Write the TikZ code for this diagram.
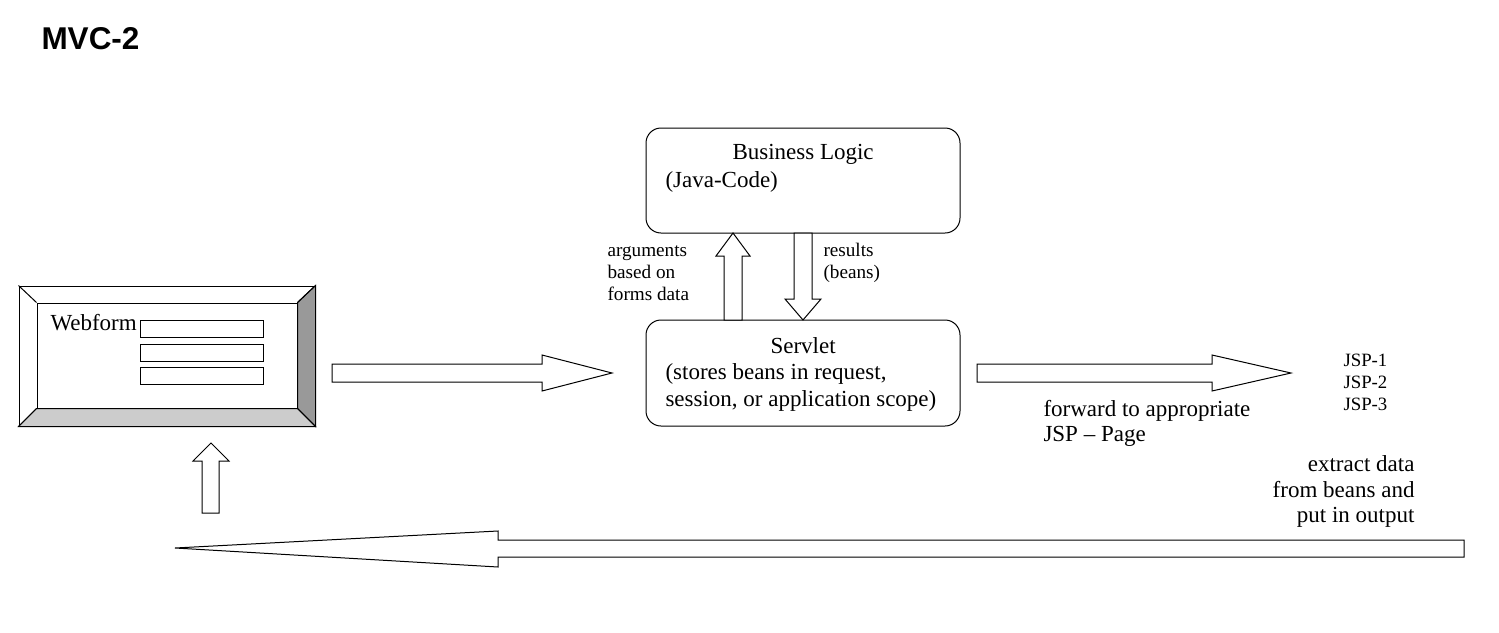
\documentclass[tikz,border=0pt]{standalone}
\usepackage{fontspec}
\setmainfont{Liberation Serif}
\newfontfamily\titlefont{Liberation Sans}
\begin{document}
\begin{tikzpicture}[x=0.5pt,y=-0.5pt,line width=0.5pt]
	\tikzstyle{every node}+=[inner sep=0pt]
	\tikzstyle{big}=[font=\fontsize{11.5}{13.5}\selectfont,anchor=base west]
	\tikzstyle{small}=[font=\fontsize{9.6}{11}\selectfont,anchor=base west]
	\tikzstyle{tiny}=[font=\fontsize{9.4}{11}\selectfont,anchor=base west]
	\tikzstyle{roundbox}=[draw,rounded corners=7.5pt,minimum width=157pt]
	\tikzstyle{blockarrow}=[draw,fill=white,line join=miter]
	\useasboundingbox (0,0) rectangle (1499,632);
	\node [anchor=base west,font=\titlefont\bfseries\fontsize{15.75}{18}\selectfont] (title) at (41,49) {MVC-2};
	\node [roundbox,minimum height=52.5pt] (logic) at (803,180.5) {};
	\node [big] (logic1) at (732,159) {Business Logic};
	\node [big] (logic2) at (665,187) {(Java-Code)};
	\node [roundbox,minimum height=53pt] (servlet) at (803,373) {};
	\node [big] (servlet1) at (770,353) {Servlet};
	\node [big] (servlet2) at (665,379) {(stores beans in request,};
	\node [big] (servlet3) at (665,406) {session, or application scope)};
	\node [draw,minimum width=148pt,minimum height=70pt] (outer) at (167,356) {};
	\node [draw,minimum width=130pt,minimum height=52.5pt] (inner) at (167,355.5) {};
	\draw [fill={rgb,255:red,153;green,153;blue,153}] (outer.north east) -- (inner.north east) -- (inner.south east) -- (outer.south east) -- cycle;
	\draw [fill={rgb,255:red,204;green,204;blue,204}] (outer.south west) -- (inner.south west) -- (inner.south east) -- (outer.south east) -- cycle;
	\draw (outer.north west) -- (inner.north west);
	\draw (outer.north east) -- (inner.north east);
	\draw (outer.south west) -- (inner.south west);
	\draw (outer.south east) -- (inner.south east);
	\node [big] (webform) at (50,330) {Webform};
	\foreach \y/\n in {328.5/1,352.5/2,375.5/3}
		\node [draw,minimum width=61.5pt,minimum height=8.5pt] (field\n) at (201.5,\y) {};
	\draw [blockarrow] (332,364) -- (542,364) -- (542,355) -- (612,373) -- (542,391) -- (542,382) -- (332,382) -- cycle;
	\draw [blockarrow] (977,364) -- (1212,364) -- (1212,355) -- (1291,373) -- (1212,391) -- (1212,382) -- (977,382) -- cycle;
	\draw [blockarrow] (724,320) -- (724,256) -- (716,256) -- (733,233) -- (750,256) -- (742,256) -- (742,320) -- cycle;
	\draw [blockarrow] (794,233) -- (794,299) -- (785,299) -- (803,320) -- (821,299) -- (812,299) -- (812,233) -- cycle;
	\draw [blockarrow] (202,513) -- (202,461) -- (193,461) -- (211,443) -- (229,461) -- (219,461) -- (219,513) -- cycle;
	\draw [blockarrow] (1464,540) -- (498,540) -- (498,531) -- (175,548) -- (498,567) -- (498,557) -- (1464,557) -- cycle;
	\node [small] (args1) at (607,256) {arguments};
	\node [small] (args2) at (607,278) {based on};
	\node [small] (args3) at (607,300) {forms data};
	\node [small] (res1) at (823,256) {results};
	\node [small] (res2) at (823,278) {(beans)};
	\node [tiny] (jsp1) at (1343,366) {JSP-1};
	\node [tiny] (jsp2) at (1343,388) {JSP-2};
	\node [tiny] (jsp3) at (1343,410) {JSP-3};
	\node [big] (fwd1) at (1043,416) {forward to appropriate};
	\node [big] (fwd2) at (1043,441) {JSP -- Page};
	\node [big,anchor=base east] (extr1) at (1415,471) {extract data};
	\node [big,anchor=base east] (extr2) at (1415,497) {from beans and};
	\node [big,anchor=base east] (extr3) at (1415,522) {put in output};
\end{tikzpicture}
\end{document}
